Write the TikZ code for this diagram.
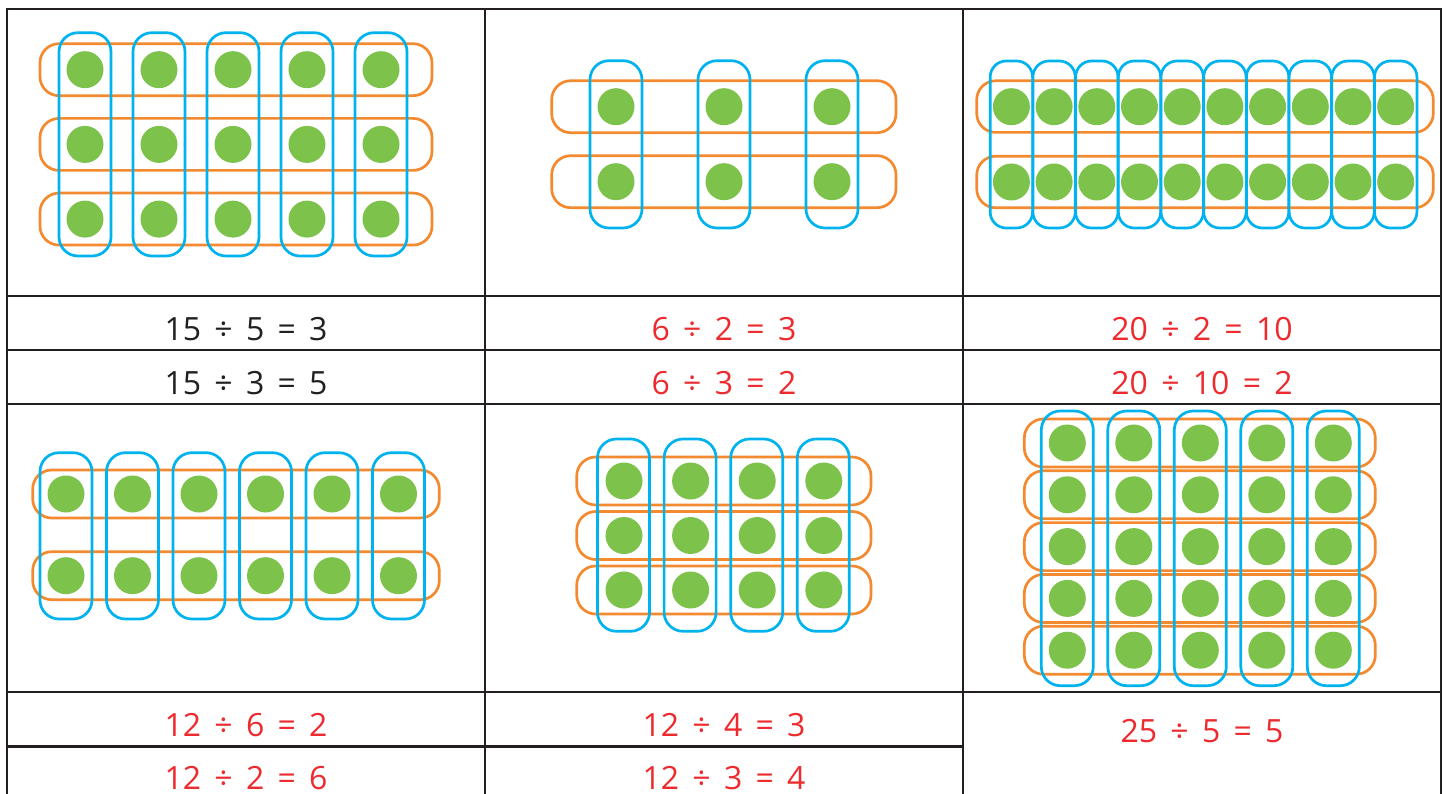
\documentclass[tikz,border=0pt]{standalone}
\usepackage{fontspec}
\setmainfont{Open Sans}[WordSpace=1.6]
\definecolor{gridc}{HTML}{231F20}
\definecolor{redt}{HTML}{ED2B2F}
\definecolor{orng}{HTML}{F48A2F}
\definecolor{blu}{HTML}{00B3EF}
\definecolor{grn}{HTML}{7DC24A}
\tikzset{
  gridline/.style={draw=gridc, line width=2.9pt},
  rowring/.style={draw=orng, line width=2.7pt, rounded corners=19pt},
  colring/.style={draw=blu, line width=2.7pt, rounded corners=19pt},
  dot/.style={fill=grn},
  eqn/.style={anchor=base, font=\fontsize{32}{36}\selectfont, inner sep=0pt},
  eqblack/.style={eqn, text=gridc},
  eqred/.style={eqn, text=redt}
}
\begin{document}
\begin{tikzpicture}[x=1pt,y=-1pt]
\useasboundingbox (0,0) rectangle (1448,794);
\fill[white] (0,0) rectangle (1448,794);

% ---------- Panel 1: 5 x 3 ----------
\foreach \j in {0,1,2}{
  \pgfmathsetmacro{\yy}{69.7+74.7*\j}
  \draw[rowring] (40,\yy-26) rectangle (432,\yy+26);
}
\foreach \i in {0,...,4}{
  \pgfmathsetmacro{\xx}{85+74*\i}
  \draw[colring] (\xx-26,32.7) rectangle (\xx+26,256);
}
\foreach \i in {0,...,4}{\foreach \j in {0,1,2}{
  \fill[dot] ({85+74*\i},{69.7+74.7*\j}) circle (18.5);
}}

% ---------- Panel 2: 3 x 2 ----------
\foreach \j in {0,1}{
  \pgfmathsetmacro{\yy}{106.7+75*\j}
  \draw[rowring] (551.7,\yy-26) rectangle (896,\yy+26);
}
\foreach \i in {0,1,2}{
  \pgfmathsetmacro{\xx}{616+108*\i}
  \draw[colring] (\xx-26,60.7) rectangle (\xx+26,228);
}
\foreach \i in {0,1,2}{\foreach \j in {0,1}{
  \fill[dot] ({616+108*\i},{106.7+75*\j}) circle (18.5);
}}

% ---------- Panel 3: 10 x 2 ----------
\foreach \j in {0,1}{
  \pgfmathsetmacro{\yy}{106.6+75.4*\j}
  \draw[rowring] (976.7,\yy-25.8) rectangle (1433.3,\yy+25.8);
}
\foreach \i in {0,...,9}{
  \pgfmathsetmacro{\xx}{1011.4+42.7*\i}
  \draw[colring, rounded corners=16pt] (\xx-21.2,61) rectangle (\xx+21.2,228);
}
\foreach \i in {0,...,9}{\foreach \j in {0,1}{
  \fill[dot] ({1011.4+42.7*\i},{106.7+75.3*\j}) circle (18.5);
}}

% ---------- Panel 4: 6 x 2 ----------
\foreach \j in {0,1}{
  \pgfmathsetmacro{\yy}{494+81.7*\j}
  \draw[rowring] (32.7,\yy-24) rectangle (439.3,\yy+24);
}
\foreach \i in {0,...,5}{
  \pgfmathsetmacro{\xx}{66+66.5*\i}
  \draw[colring] (\xx-26,452.7) rectangle (\xx+26,619);
}
\foreach \i in {0,...,5}{\foreach \j in {0,1}{
  \fill[dot] ({66+66.5*\i},{494+81.7*\j}) circle (18.5);
}}

% ---------- Panel 5: 4 x 3 ----------
\foreach \j in {0,1,2}{
  \pgfmathsetmacro{\yy}{481+54.5*\j}
  \draw[rowring] (576.7,\yy-24) rectangle (871,\yy+24);
}
\foreach \i in {0,...,3}{
  \pgfmathsetmacro{\xx}{623.5+66.6*\i}
  \draw[colring] (\xx-26,439) rectangle (\xx+26,631.3);
}
\foreach \i in {0,...,3}{\foreach \j in {0,1,2}{
  \fill[dot] ({624+66.6*\i},{481+54.5*\j}) circle (18.5);
}}

% ---------- Panel 6: 5 x 5 ----------
\foreach \j in {0,...,4}{
  \pgfmathsetmacro{\yy}{443+51.8*\j}
  \draw[rowring] (1024.3,\yy-24) rectangle (1375.3,\yy+24);
}
\foreach \i in {0,...,4}{
  \pgfmathsetmacro{\xx}{1067.3+66.5*\i}
  \draw[colring] (\xx-26,411) rectangle (\xx+26,685.7);
}
\foreach \i in {0,...,4}{\foreach \j in {0,...,4}{
  \fill[dot] ({1067.3+66.5*\i},{443+51.8*\j}) circle (18.5);
}}

% ---------- Table grid ----------
\draw[gridline] (7,794) -- (7,9) -- (1441,9) -- (1441,794);
\draw[gridline] (485,9) -- (485,794);
\draw[gridline] (963,9) -- (963,794);
\draw[gridline] (7,296) -- (1441,296);
\draw[gridline] (7,350) -- (1441,350);
\draw[gridline] (7,404) -- (1441,404);
\draw[gridline] (7,692) -- (1441,692);
\draw[gridline] (7,746.5) -- (963,746.5);

% ---------- Equations ----------
\node[eqblack] (e11) at (246,340) {15 ÷ 5 = 3};
\node[eqred]   (e12) at (724,340) {6 ÷ 2 = 3};
\node[eqred]   (e13) at (1202,340) {20 ÷ 2 = 10};
\node[eqblack] (e21) at (246,394.5) {15 ÷ 3 = 5};
\node[eqred]   (e22) at (724,394.5) {6 ÷ 3 = 2};
\node[eqred]   (e23) at (1202,394.5) {20 ÷ 10 = 2};
\node[eqred]   (e31) at (246,736.5) {12 ÷ 6 = 2};
\node[eqred]   (e32) at (724,736.5) {12 ÷ 4 = 3};
\node[eqred]   (e33) at (1202,742) {25 ÷ 5 = 5};
\node[eqred]   (e41) at (246,789.5) {12 ÷ 2 = 6};
\node[eqred]   (e42) at (724,789.5) {12 ÷ 3 = 4};
\end{tikzpicture}
\end{document}
